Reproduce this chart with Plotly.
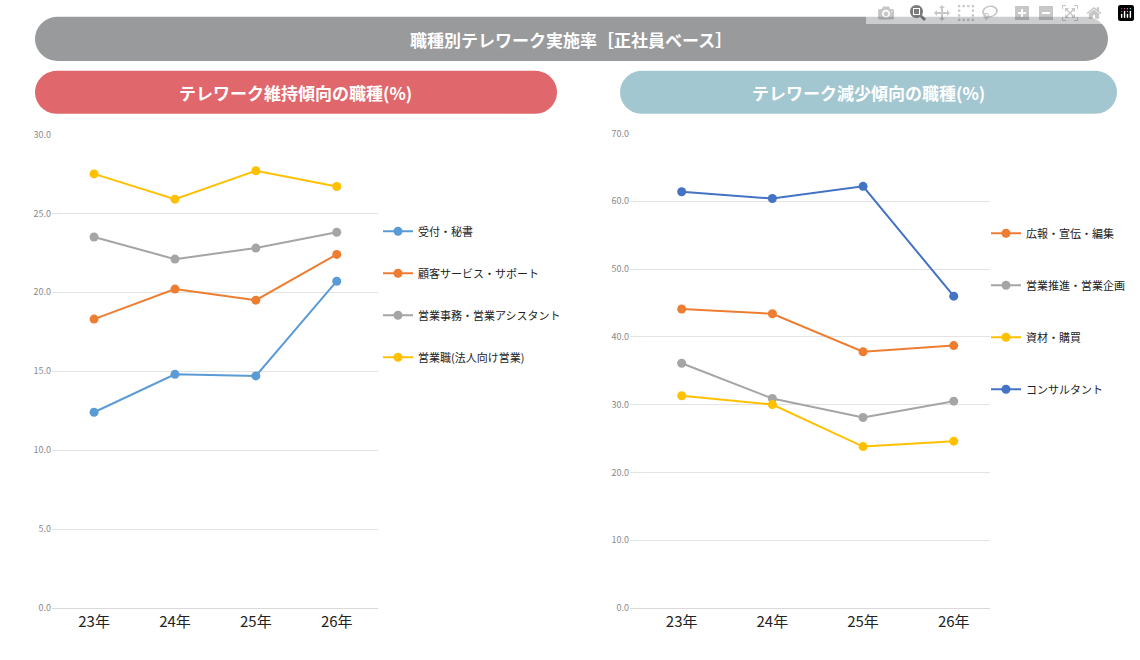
import plotly.graph_objects as go
import numpy as np

years = ["23年", "24年", "25年", "26年"]
left_names = ["受付・秘書", "顧客サービス・サポート", "営業事務・営業アシスタント", "営業職(法人向け営業)"]
left_vals = [[12.4, 14.8, 14.7, 20.7], [18.3, 20.2, 19.5, 22.4], [23.5, 22.1, 22.8, 23.8], [27.5, 25.9, 27.7, 26.7]]
left_cols = ["#5B9BD5", "#ED7D31", "#A5A5A5", "#FFC000"]
right_names = ["広報・宣伝・編集", "営業推進・営業企画", "資材・購買", "コンサルタント"]
right_vals = [[44.1, 43.4, 37.8, 38.7], [36.1, 30.9, 28.1, 30.5], [31.3, 30.0, 23.8, 24.6], [61.4, 60.4, 62.2, 46.0]]
right_cols = ["#ED7D31", "#A5A5A5", "#FFC000", "#4472C4"]

FONT = "Noto Sans CJK JP"
W, H = 1140, 660
fig = go.Figure()
for i, (n, v, c) in enumerate(zip(left_names, left_vals, left_cols)):
    fig.add_trace(go.Scatter(x=years, y=v, name=n, mode="lines+markers", line=dict(color=c, width=2),
                             marker=dict(size=9, color=c), xaxis="x", yaxis="y", legend="legend",
                             legendgroup="l%d" % i))
for i, (n, v, c) in enumerate(zip(right_names, right_vals, right_cols)):
    fig.add_trace(go.Scatter(x=years, y=v, name=n, mode="lines+markers", line=dict(color=c, width=2),
                             marker=dict(size=9, color=c), xaxis="x2", yaxis="y2", legend="legend2",
                             legendgroup="r%d" % i))

def fx(p): return p / W
def fy(p): return 1 - p / H

ax = dict(showgrid=False, showline=True, linecolor="#d9d9d9", ticks="",
          tickfont=dict(family=FONT, size=15, color="#222"), fixedrange=True)
ay = dict(showgrid=True, gridcolor="#e3e3e3", zeroline=False, tickformat=".1f",
          tickfont=dict(family=FONT, size=9, color="#8a8a8a"), ticklabelstandoff=0)
fig.update_layout(
    width=W, height=H, margin=dict(l=0, r=0, t=0, b=0), paper_bgcolor="white", plot_bgcolor="white",
    font=dict(family=FONT),
    xaxis=dict(ax, domain=[fx(52), fx(378)], range=[-0.52, 3.51]),
    yaxis=dict(ay, domain=[fy(613), fy(130)], range=[0, 30], dtick=5),
    xaxis2=dict(ax, domain=[fx(630), fx(990)], range=[-0.57, 3.4]),
    yaxis2=dict(ay, domain=[fy(613), fy(129)], range=[0, 70], dtick=10, anchor="x2"),
    legend=dict(x=fx(378), y=fy(214), xanchor="left", yanchor="top", tracegroupgap=23,
                font=dict(size=11, color="#222"), itemwidth=30, bgcolor="rgba(0,0,0,0)"),
    legend2=dict(x=fx(986), y=fy(216), xanchor="left", yanchor="top", tracegroupgap=33,
                 font=dict(size=11, color="#222"), itemwidth=30, bgcolor="rgba(0,0,0,0)"),
)

def pill_paper(x0, y0, x1, y1, color):
    r = (y1 - y0) / 2
    pts = []
    for t in np.linspace(-np.pi/2, np.pi/2, 20):
        pts.append((x1 - r + r*np.cos(t), (y0+y1)/2 + r*np.sin(t)))
    for t in np.linspace(np.pi/2, 3*np.pi/2, 20):
        pts.append((x0 + r + r*np.cos(t), (y0+y1)/2 + r*np.sin(t)))
    path = "M " + " L ".join(f"{fx(a):.5f},{fy(b):.5f}" for a, b in pts) + " Z"
    fig.add_shape(type="path", path=path, xref="paper", yref="paper",
                  fillcolor=color, line=dict(width=0), layer="below")

pill_paper(35, 10, 1108, 55, "#999a9c")
pill_paper(35, 65, 557, 109, "#e0686c")
pill_paper(620, 65, 1117, 109, "#a3c7d0")
for txt, xc, yc in [("<b>職種別テレワーク実施率［正社員ベース］</b>", 571, 33),
                    ("<b>テレワーク維持傾向の職種(%)</b>", 296, 87),
                    ("<b>テレワーク減少傾向の職種(%)</b>", 868, 87)]:
    fig.add_annotation(text=txt, x=fx(xc), y=fy(yc), xref="paper", yref="paper", showarrow=False,
                       xanchor="center", yanchor="middle",
                       font=dict(family=FONT, size=17, color="white"))
fig.write_html("out.html")
with open("out.html", encoding="utf-8") as f:
    s = f.read()
s = s.replace("<head>", "<head><style>html,body{margin:0;padding:0;overflow:hidden;}</style>", 1)
with open("out.html", "w", encoding="utf-8") as f:
    f.write(s)
